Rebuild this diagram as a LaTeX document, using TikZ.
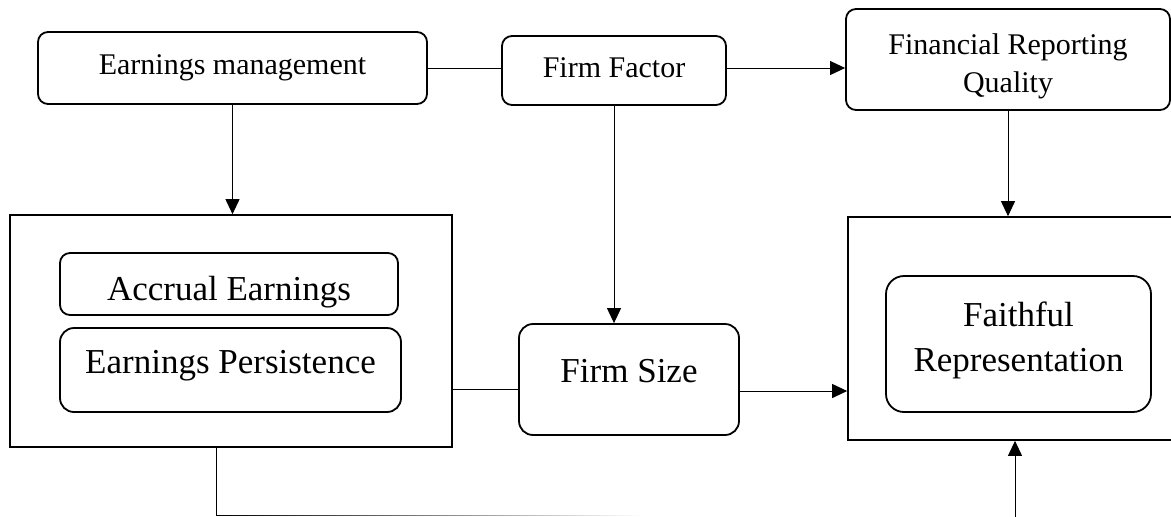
\documentclass[tikz,border=0pt]{standalone}
\usepackage{fontspec}
\setmainfont{Liberation Serif}
\usetikzlibrary{arrows.meta,fadings}

\tikzfading[name=tailfade, left color=transparent!0, middle color=transparent!0, right color=transparent!100]

\begin{document}
\begin{tikzpicture}[auto, x=0.5pt, y=-0.5pt,
  rbox/.style={draw, rounded corners=5pt, line width=0.9pt, inner sep=0pt, font=\fontsize{15}{19}\selectfont},
  bigbox/.style={rbox, rounded corners=7pt, font=\fontsize{17.5}{22.5}\selectfont},
  frame/.style={draw, line width=0.85pt, inner sep=0pt},
  link/.style={line width=0.5pt},
  arr/.style={link, -{Triangle[length=7.5pt,width=7pt]}}]

\useasboundingbox (0,0) rectangle (1171,516);
\clip (0,0) rectangle (1171,516);

\node[rbox, minimum width=194.5pt, minimum height=36pt, text height=11pt, text depth=5pt] (em) at (232.5,68) {Earnings management};
\node[rbox, minimum width=112pt, minimum height=34.5pt, text height=11pt, text depth=4.5pt] (ff) at (614,70.5) {Firm Factor};
\node[rbox, minimum width=162pt, minimum height=50.5pt, align=center, text height=36.3pt, text depth=3.2pt] (frq) at (1008,59.5) {Financial Reporting\\Quality};

\node[frame, minimum width=221pt, minimum height=116pt] (leftbox) at (231,331) {};
\node[bigbox, rounded corners=5pt, minimum width=169pt, minimum height=31pt, text height=19pt, text depth=3pt] (accrual) at (229,284) {Accrual Earnings};
\node[bigbox, minimum width=170.5pt, minimum height=42pt, text height=13pt, text depth=10pt] (persist) at (230.5,370) {Earnings Persistence};

\node[bigbox, minimum width=110pt, minimum height=55.5pt, text height=13pt, text depth=10.5pt] (fsize) at (629,379.5) {Firm Size};

\node[frame, minimum width=171pt, minimum height=111.5pt] (rightbox) at (1019,328.5) {};
\node[bigbox, rounded corners=9pt, minimum width=132.5pt, minimum height=68pt, align=center, text height=31.4pt, text depth=3.8pt] (faithful) at (1018.5,344) {Faithful\\Representation};

\coordinate (ffout) at ([yshift=1.25pt]ff.east);
\coordinate (fsin) at ([yshift=-4.75pt]fsize.west);
\coordinate (fsout) at ([yshift=-5.75pt]fsize.east);
\coordinate (tailstart) at ([xshift=-7pt]leftbox.south);
\coordinate (tailend) at (640,515);
\coordinate (bottomin) at (1015,520);

\path (em.east) edge[link] (em.east -| ff.west);
\path (ffout) edge[arr] (ffout -| frq.west);

\path (em.south) edge[arr] (em.south |- leftbox.north);
\path (ff.south) edge[arr] (ff.south |- fsize.north);
\path (frq.south) edge[arr] (frq.south |- rightbox.north);

\path (fsin -| leftbox.east) edge[link] (fsin);
\path (fsout) edge[arr] (fsout -| rightbox.west);

\draw[link, path fading=tailfade] (tailstart) |- (tailend);
\path (bottomin) edge[arr] (bottomin |- rightbox.south);

\end{tikzpicture}
\end{document}
